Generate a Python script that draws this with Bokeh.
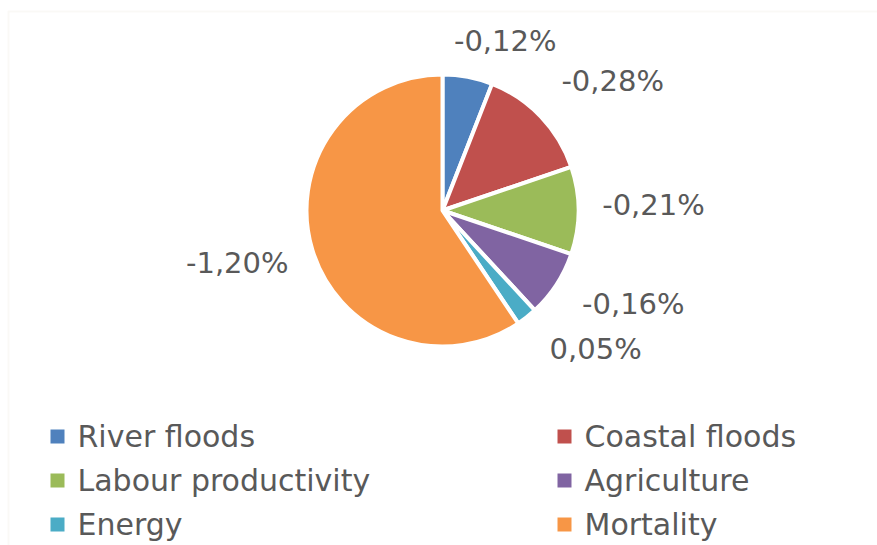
import math
from bokeh.plotting import figure
from bokeh.models import ColumnDataSource, Range1d, BoxAnnotation
from bokeh.core.properties import value
from bokeh.embed import file_html
from bokeh.resources import INLINE

# ---- data ----
categories = ["River floods", "Coastal floods", "Labour productivity",
              "Agriculture", "Energy", "Mortality"]
impacts = [-0.12, -0.28, -0.21, -0.16, 0.05, -1.20]
colors = ["#4F81BD", "#C0504D", "#9BBB59", "#8064A2", "#4BACC6", "#F79646"]

# ---- layout (pixels) ----
W, H = 877, 545
CX, CY = 442, H - 210
R = 136
lab_dist = [180, 213, 211, 213, 207, 212]
lab_shift = [9.7, 6.7, -1.1, -6.6, -9.4, 2.4]
FONT = "DejaVu Sans"
FSIZE = "30px"
LSIZE = "29px"
TXT = "#595959"

sizes = [abs(v) for v in impacts]
total = sum(sizes)
starts, ends, mids = [], [], []
acc = 0.0
for s in sizes:
    a0 = acc / total * 360.0
    acc += s
    a1 = acc / total * 360.0
    starts.append(math.radians(90 - a0))
    ends.append(math.radians(90 - a1))
    mids.append((a0 + a1) / 2)

labels = [f"{v:.2f}%".replace(".", ",") for v in impacts]
lx, ly = [], []
for m, d, sh in zip(mids, lab_dist, lab_shift):
    t = math.radians(m + sh)
    lx.append(CX + d * math.sin(t))
    ly.append(CY + d * math.cos(t) + 1)

src = ColumnDataSource(dict(cat=categories, start=starts, end=ends,
                            color=colors, lx=lx, ly=ly, label=labels,
                            x=[CX] * len(categories), y=[CY] * len(categories)))

p = figure(width=W, height=H, x_range=Range1d(0, W), y_range=Range1d(0, H),
           output_backend="svg", toolbar_location=None, min_border=0)
p.axis.visible = False
p.grid.visible = False
p.outline_line_color = None
p.background_fill_color = "white"

p.add_layout(BoxAnnotation(left=8, right=W + 20, top=H - 11, bottom=-20,
                           fill_alpha=0, line_color="#EEEAE2", line_width=2))

p.wedge(x="x", y="y", radius=R, start_angle="start", end_angle="end",
        direction="clock", fill_color="color", line_color="white",
        line_width=4, source=src)

p.text(x="lx", y="ly", text="label", source=src, text_align="center",
       text_baseline="middle", text_font=value(FONT), text_font_size=LSIZE,
       text_color=TXT)

# ---- legend (two columns) ----
col_x = [57, 564]
row_y0, row_dy = H - 436, 44
leg_x = [col_x[i % 2] for i in range(len(categories))]
leg_y = [row_y0 - (i // 2) * row_dy for i in range(len(categories))]
leg = ColumnDataSource(dict(x=leg_x, y=leg_y, tx=[x + 20 for x in leg_x],
                            ty=[y for y in leg_y], cat=categories, color=colors))
p.scatter(x="x", y="y", marker="square", size=14, fill_color="color",
          line_color=None, source=leg)
p.text(x="tx", y="ty", text="cat", source=leg, text_align="left",
       text_baseline="middle", text_font=value(FONT), text_font_size=FSIZE,
       text_color=TXT)

open("out.html", "w").write(file_html(p, INLINE))
